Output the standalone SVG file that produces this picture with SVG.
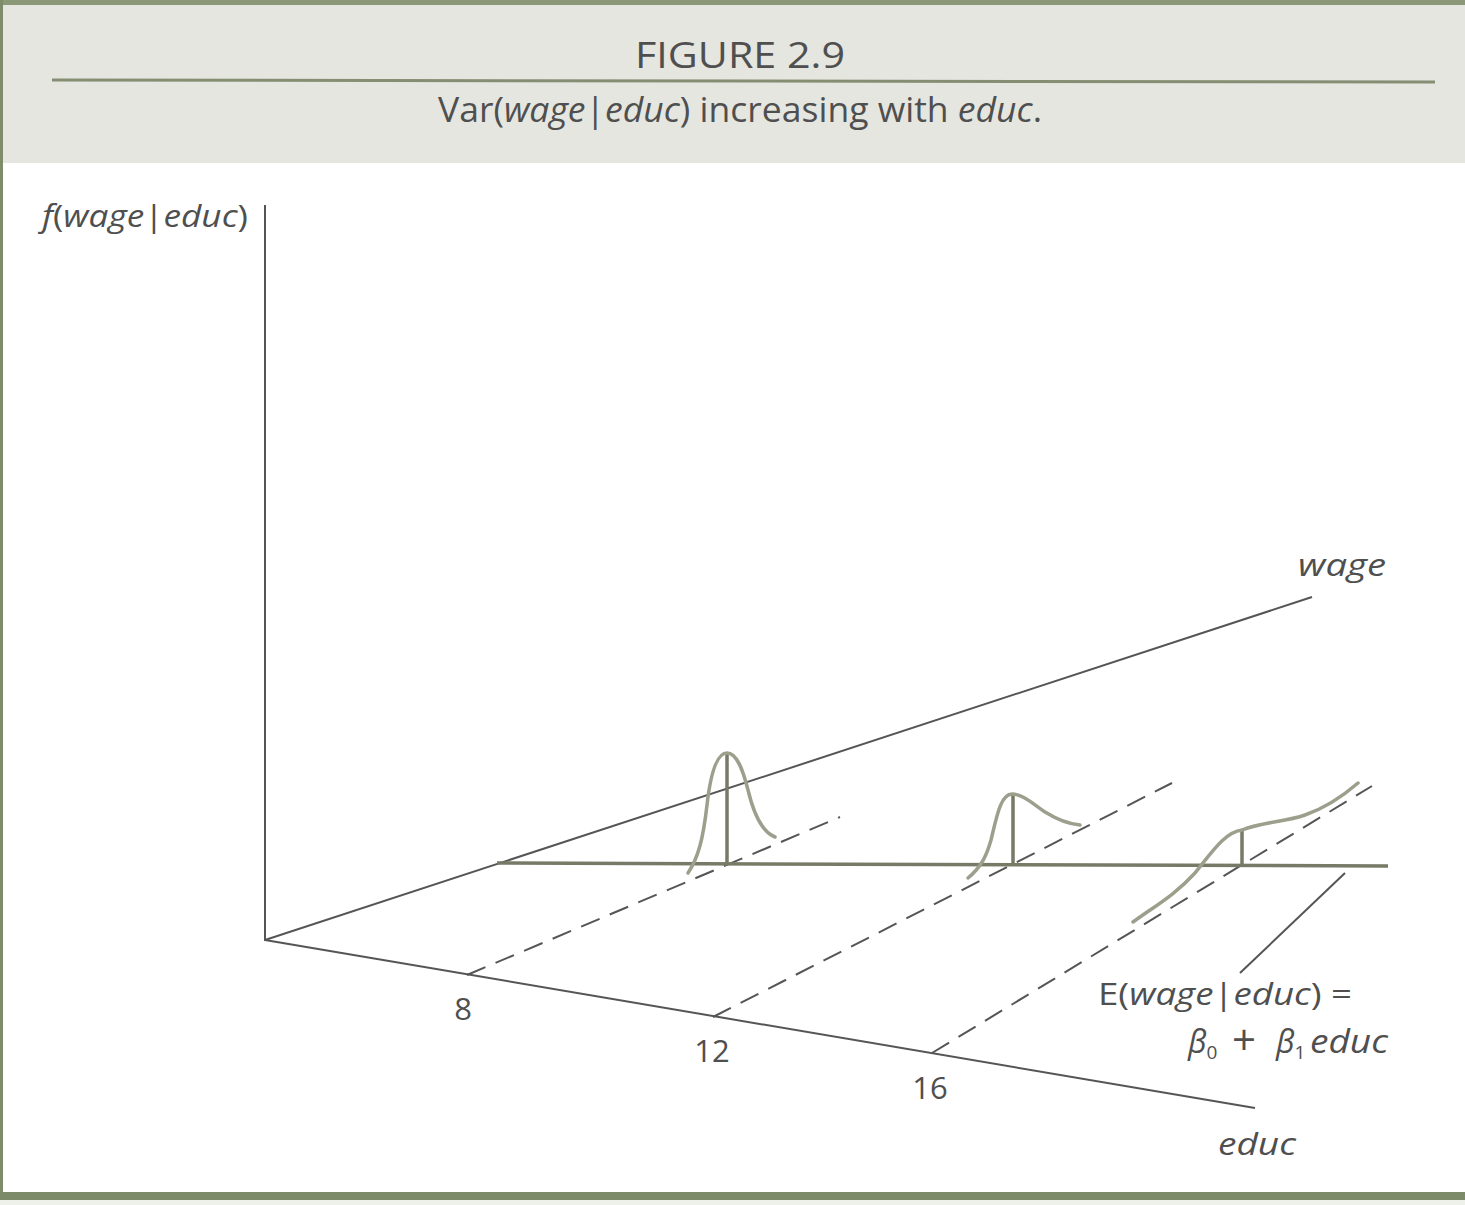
<svg xmlns="http://www.w3.org/2000/svg" width="1465" height="1205" viewBox="0 0 1465 1205">
<style>
.txt{font-family:"Open Sans","Noto Sans","Liberation Sans",sans-serif;fill:#4f4f4f}
.it{font-style:italic}
.axis{stroke:#555;stroke-width:2;fill:none}
.dash{stroke:#555;stroke-width:2;fill:none;stroke-dasharray:20 11}
.mean{stroke:#767a66;stroke-width:3.5;fill:none}
.curve{stroke:#9c9f8c;stroke-width:3.5;fill:none;stroke-linecap:round}
</style>
<rect x="0" y="0" width="1465" height="1205" fill="#ffffff"/>
<rect x="0" y="0" width="1465" height="163" fill="#e5e6e0"/>
<rect x="0" y="0" width="1465" height="5" fill="#8b9878"/>
<rect x="0" y="0" width="3" height="1200" fill="#7f8c6c"/>
<rect x="0" y="1192" width="1465" height="8" fill="#7d8a6a"/>
<rect x="0" y="1200" width="1465" height="5" fill="#eef0ea"/>
<line x1="52" y1="80" x2="1435" y2="82" stroke="#858d72" stroke-width="3"/>
<g id="title">
<text class="txt" x="740" y="68" font-size="37" text-anchor="middle" textLength="210" lengthAdjust="spacingAndGlyphs">FIGURE 2.9</text>
<text class="txt" x="740" y="122" font-size="34" text-anchor="middle" textLength="604" lengthAdjust="spacingAndGlyphs">Var(<tspan class="it">wage</tspan>|<tspan class="it">educ</tspan>) increasing with <tspan class="it">educ</tspan>.</text>
</g>
<g id="connectors">
<line class="axis" x1="265" y1="205" x2="265" y2="941"/>
<line class="axis" x1="265" y1="940" x2="1312" y2="597"/>
<line class="axis" x1="265" y1="940" x2="1255" y2="1108"/>
<line class="dash" x1="467" y1="975" x2="840" y2="817"/>
<line class="dash" x1="713" y1="1017" x2="1172" y2="783"/>
<line class="dash" x1="932" y1="1053" x2="1372" y2="786"/>
<line class="axis" x1="1240" y1="973" x2="1345" y2="873"/>
<line class="mean" x1="497" y1="863" x2="1388" y2="866"/>
<line class="mean" x1="727" y1="863" x2="727" y2="753"/>
<line class="mean" x1="1013" y1="864" x2="1013" y2="794"/>
<line class="mean" x1="1242" y1="865" x2="1242" y2="830"/>
</g>
<g id="density-8">
<path class="curve" d="M688,873 C698,858 703,840 707,805 C711,770 718,753 727,753 C737,753 743,770 748,790 C754,815 762,832 775,837"/>
</g>
<g id="density-12">
<path class="curve" d="M968,878 C980,868 986,858 991,840 C997,815 1001,794 1012,794 C1022,794 1032,803 1045,812 C1058,820 1068,824 1080,825"/>
</g>
<g id="density-16">
<path class="curve" d="M1133,922 C1155,906 1175,895 1195,873 C1212,852 1225,832 1242,830 C1262,822 1285,822 1305,815 C1325,808 1343,796 1358,783"/>
</g>
<g id="labels">
<text class="txt" x="42" y="227" font-size="31" textLength="206" lengthAdjust="spacingAndGlyphs"><tspan class="it">f</tspan>(<tspan class="it">wage</tspan>|<tspan class="it">educ</tspan>)</text>
<text class="txt it" x="1298" y="576" font-size="31" textLength="88" lengthAdjust="spacingAndGlyphs">wage</text>
<text class="txt" x="463" y="1020" font-size="31" text-anchor="middle">8</text>
<text class="txt" x="712" y="1062" font-size="31" text-anchor="middle">12</text>
<text class="txt" x="930" y="1099" font-size="31" text-anchor="middle">16</text>
<text class="txt it" x="1218" y="1155" font-size="31" textLength="78" lengthAdjust="spacingAndGlyphs">educ</text>
<text class="txt" x="1098" y="1005" font-size="31" textLength="254" lengthAdjust="spacingAndGlyphs">E(<tspan class="it">wage</tspan>|<tspan class="it">educ</tspan>) =</text>
<text class="txt" y="1053" font-size="32"><tspan class="it" x="1188">β</tspan><tspan font-size="19" dy="6">0</tspan><tspan class="it" x="1276" dy="-6">β</tspan><tspan font-size="19" dy="6">1</tspan></text>
<text class="txt" x="1244" y="1055" font-size="42" text-anchor="middle">+</text>
<text class="txt it" x="1310" y="1053" font-size="32" textLength="78" lengthAdjust="spacingAndGlyphs">educ</text>
</g>
</svg>
